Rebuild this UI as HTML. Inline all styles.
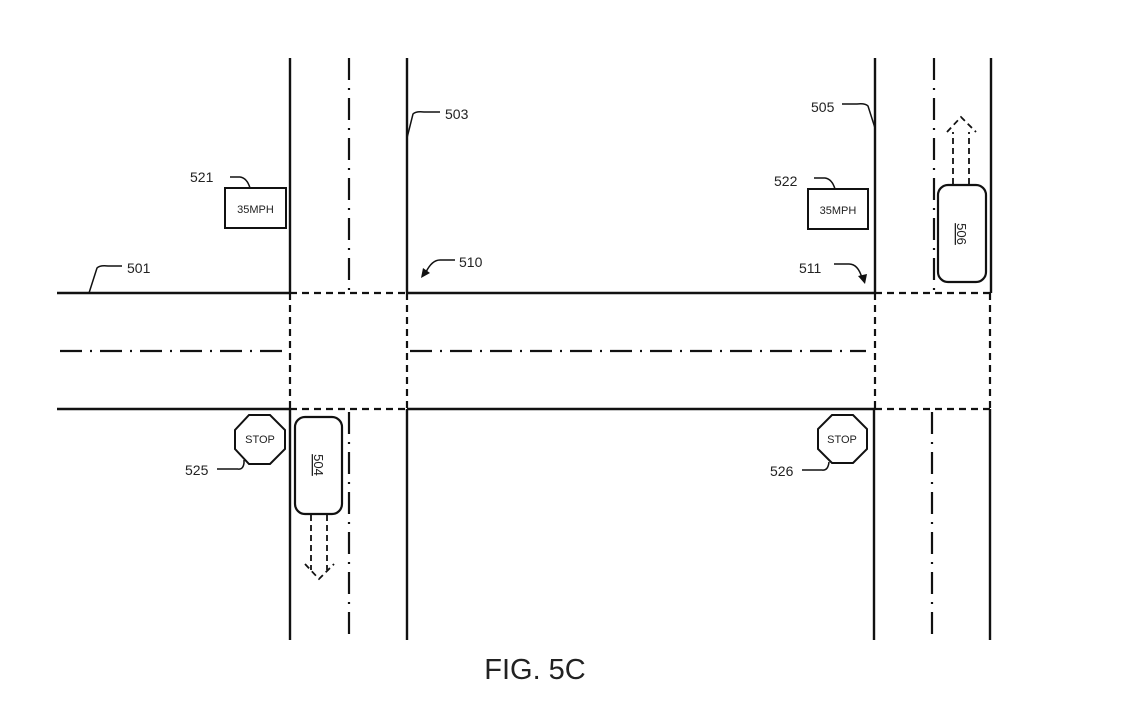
<!DOCTYPE html>
<html><head><meta charset="utf-8"><style>
html,body{margin:0;padding:0;background:#fff}
svg{display:block}
text{font-family:"Liberation Sans",Arial,sans-serif;fill:#222}
</style></head><body>
<svg width="1139" height="714" viewBox="0 0 1139 714" xmlns="http://www.w3.org/2000/svg">
<g stroke="#111" fill="none" stroke-width="2.4">
<line x1="57" y1="293" x2="290" y2="293"/>
<line x1="407" y1="293" x2="875" y2="293"/>
<line x1="57" y1="409" x2="290" y2="409"/>
<line x1="407" y1="409" x2="875" y2="409"/>
<line x1="290" y1="58" x2="290" y2="293"/>
<line x1="290" y1="409" x2="290" y2="640"/>
<line x1="407" y1="58" x2="407" y2="293"/>
<line x1="407" y1="409" x2="407" y2="640"/>
<line x1="875" y1="58" x2="875" y2="293"/>
<line x1="874" y1="409" x2="874" y2="640"/>
<line x1="991" y1="58" x2="991" y2="293"/>
<line x1="990" y1="409" x2="990" y2="640"/>
</g>
<g stroke="#111" fill="none" stroke-width="2.2" stroke-dasharray="7,5">
<line x1="290" y1="293" x2="407" y2="293"/>
<line x1="290" y1="409" x2="407" y2="409"/>
<line x1="875" y1="293" x2="991" y2="293"/>
<line x1="875" y1="409" x2="991" y2="409"/>
<line x1="290" y1="293" x2="290" y2="409"/>
<line x1="407" y1="293" x2="407" y2="409"/>
<line x1="875" y1="293" x2="875" y2="409"/>
<line x1="990" y1="293" x2="990" y2="409"/>
</g>
<g stroke="#111" fill="none" stroke-width="2.2" stroke-dasharray="22,8,2,8">
<line x1="60" y1="351" x2="287" y2="351"/>
<line x1="410" y1="351" x2="866" y2="351"/>
<line x1="349" y1="58" x2="349" y2="290"/>
<line x1="349" y1="412" x2="349" y2="640"/>
<line x1="934" y1="58" x2="934" y2="290"/>
<line x1="932" y1="412" x2="932" y2="640"/>
</g>
<g stroke="#111" fill="none" stroke-width="1.5">
<path d="M89 293 L97 268 Q100 265 108 266 L122 266"/>
<path d="M407 138 L413 114 Q416 111 424 112 L440 112"/>
<path d="M875 128 L868 106 Q865 103 857 104 L842 104"/>
<path d="M250 188 Q247 178 240 177 L230 177"/>
<path d="M835 189 Q832 179 825 178 L814 178"/>
<path d="M238 469 Q243 470 244 463 L244 460"/>
<path d="M217 469 L238 469"/>
<path d="M802 470 L822 470 Q828 471 829 462"/>
<path d="M455 260 L440 260 Q432 260 426 272"/>
<path d="M834 264 L849 264 Q858 264 862 278"/>
</g>
<polygon points="421,278 423,268 430,273" fill="#111"/>
<polygon points="865,284 858,276 867,274" fill="#111"/>
<rect x="225" y="188" width="61" height="40" fill="#fff" stroke="#111" stroke-width="2"/>
<text x="255.5" y="213" font-size="11" text-anchor="middle">35MPH</text>
<rect x="808" y="189" width="60" height="40" fill="#fff" stroke="#111" stroke-width="2"/>
<text x="838" y="214" font-size="11" text-anchor="middle">35MPH</text>
<polygon points="249,415 270,415 285,430 285,449 270,464 249,464 235,449 235,430" fill="#fff" stroke="#111" stroke-width="2"/>
<text x="260" y="443" font-size="11" text-anchor="middle">STOP</text>
<polygon points="832,415 853,415 867,429 867,449 853,463 832,463 818,449 818,429" fill="#fff" stroke="#111" stroke-width="2"/>
<text x="842" y="443" font-size="11" text-anchor="middle">STOP</text>
<rect x="295" y="417" width="47" height="97" rx="10" fill="#fff" stroke="#111" stroke-width="2.2"/>
<text transform="translate(314,465) rotate(90)" font-size="13" text-anchor="middle" text-decoration="underline">504</text>
<g stroke="#111" fill="none" stroke-width="1.8" stroke-dasharray="6,4">
<line x1="311" y1="515" x2="311" y2="570"/>
<line x1="327" y1="515" x2="327" y2="570"/>
<polyline points="305,564 319,579 334,564"/>
</g>
<rect x="938" y="185" width="48" height="97" rx="10" fill="#fff" stroke="#111" stroke-width="2.2"/>
<text transform="translate(957,234) rotate(90)" font-size="13" text-anchor="middle" text-decoration="underline">506</text>
<g stroke="#111" fill="none" stroke-width="1.8" stroke-dasharray="6,4">
<line x1="953" y1="184" x2="953" y2="132"/>
<line x1="969" y1="184" x2="969" y2="132"/>
<polyline points="947,132 961,117 976,132"/>
</g>
<g font-size="14">
<text x="127" y="273">501</text>
<text x="445" y="119">503</text>
<text x="811" y="112">505</text>
<text x="459" y="267">510</text>
<text x="799" y="273">511</text>
<text x="190" y="182">521</text>
<text x="774" y="186">522</text>
<text x="185" y="475">525</text>
<text x="770" y="476">526</text>
</g>
<text x="535" y="679" font-size="29" text-anchor="middle">FIG. 5C</text>
</svg>
</body></html>
